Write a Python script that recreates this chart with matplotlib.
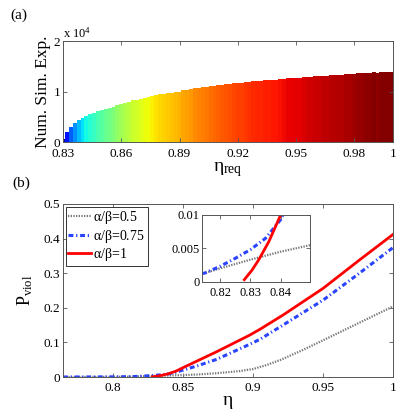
import matplotlib

matplotlib.use("Agg")

import matplotlib.pyplot as plt
import numpy as np

# --- (a) number of simulation experiments per required efficiency ---
ETA_REQ_START = 0.830
ETA_REQ_STEP = 0.002
NUM_SIM_X1E4 = [
    0.05, 0.20, 0.30, 0.37, 0.43, 0.48, 0.52, 0.55, 0.58, 0.61,
    0.63, 0.66, 0.68, 0.70, 0.73, 0.76, 0.78, 0.80, 0.83, 0.84,
    0.86, 0.88, 0.89, 0.91, 0.93, 0.95, 0.96, 0.97, 0.98, 0.99,
    1.00, 1.02, 1.03, 1.04, 1.06, 1.07, 1.08, 1.09, 1.10, 1.11,
    1.12, 1.13, 1.14, 1.15, 1.16, 1.17, 1.17, 1.18, 1.19, 1.20,
    1.21, 1.21, 1.22, 1.22, 1.23, 1.23, 1.24, 1.25, 1.26, 1.26,
    1.27, 1.27, 1.28, 1.29, 1.29, 1.30, 1.30, 1.31, 1.31, 1.32,
    1.32, 1.33, 1.33, 1.34, 1.34, 1.35, 1.36, 1.36, 1.37, 1.37,
    1.38, 1.37, 1.38, 1.38, 1.38, 1.39,
]
TOP_XTICKS = [0.83, 0.86, 0.89, 0.92, 0.95, 0.98, 1.0]
TOP_XTICKLABELS = ["0.83", "0.86", "0.89", "0.92", "0.95", "0.98", "1"]

# --- (b) violation probability curves ---
ETA_05 = [0.7643, 0.78, 0.80, 0.81, 0.815, 0.82, 0.83, 0.84, 0.85, 0.86,
          0.874, 0.89, 0.90, 0.91, 0.92, 0.935, 0.95, 0.975, 1.0]
P_05 = [0.0, 0.0001, 0.0004, 0.0009, 0.0013, 0.0020, 0.0033, 0.0045, 0.0055, 0.0072,
        0.011, 0.017, 0.023, 0.035, 0.050, 0.077, 0.106, 0.155, 0.204]

ETA_075 = [0.7643, 0.78, 0.80, 0.81, 0.815, 0.82, 0.825, 0.83, 0.835, 0.84,
           0.845, 0.85, 0.86, 0.874, 0.8976, 0.905, 0.9214, 0.95, 0.976, 1.0]
P_075 = [0.0, 0.0001, 0.0004, 0.0009, 0.0013, 0.0023, 0.0035, 0.0048, 0.0065, 0.0093,
         0.014, 0.020, 0.032, 0.051, 0.0945, 0.109, 0.150, 0.222, 0.300, 0.374]

ETA_1 = [0.828, 0.8305, 0.8328, 0.8361, 0.8383, 0.840, 0.845, 0.85, 0.862, 0.874,
         0.8976, 0.905, 0.9214, 0.95, 0.976, 1.0]
P_1 = [0.0003, 0.0017, 0.0033, 0.0060, 0.00825, 0.010, 0.017, 0.027, 0.050, 0.073,
       0.121, 0.138, 0.179, 0.256, 0.338, 0.412]

LEGEND_LABELS = [r"$\alpha/\beta$=0.5", r"$\alpha/\beta$=0.75", r"$\alpha/\beta$=1"]

SERIF = ["Liberation Serif", "DejaVu Serif"]
plt.rcParams["font.family"] = SERIF
plt.rcParams["mathtext.fontset"] = "custom"
plt.rcParams["mathtext.rm"] = "Liberation Serif"
plt.rcParams["mathtext.it"] = "Liberation Serif"
plt.rcParams["mathtext.sf"] = "Liberation Serif"

AXCOL = "#555555"
GRAY_STYLE = dict(linestyle=(0, (0.6, 0.6)), color="#777777", lw=1.6)
BLUE_STYLE = dict(linestyle=(0, (1.6, 0.9, 0.4, 0.9)), color="#2b44ff", lw=2.2)
RED_STYLE = dict(linestyle="-", color="#ff0000", lw=2.0)


def style_axes(ax, size=9, xpad=3.5):
    for sp in ax.spines.values():
        sp.set_color(AXCOL)
        sp.set_linewidth(0.7)
    ax.tick_params(direction="in", length=3, width=0.6, color=AXCOL,
                   top=True, right=True, labelsize=size, pad=2)
    ax.tick_params(axis="x", pad=xpad)


fig = plt.figure(figsize=(3.99, 4.11), dpi=100)

# (a)
ax1 = fig.add_axes([0.158, 0.6545, 0.827, 0.2457])
heights = np.array(NUM_SIM_X1E4) * 1e4
eta_req = ETA_REQ_START + ETA_REQ_STEP * np.arange(len(heights))
colors = plt.cm.jet(heights / heights.max())
ax1.bar(eta_req, heights, width=ETA_REQ_STEP, color=colors, linewidth=0)
ax1.set_xlim(0.83, 1.0)
ax1.set_ylim(0, 2e4)
ax1.set_xticks(TOP_XTICKS)
ax1.set_xticklabels(TOP_XTICKLABELS)
ax1.set_yticks([0, 1e4, 2e4])
ax1.set_yticklabels(["0", "1", "2"])
style_axes(ax1, 9.5, xpad=4.5)
ax1.set_ylabel("Num. Sim. Exp.", fontsize=12.5, labelpad=2)
ax1.set_xlabel(r"$\eta_{\mathrm{req}}$", fontsize=14, labelpad=0)
ax1.text(0.0, 1.0, r"x 10$^{4}$", transform=ax1.transAxes, fontsize=9,
         ha="left", va="bottom")
fig.text(0.025, 0.955, "(a)", fontsize=11)

# (b)
ax2 = fig.add_axes([0.158, 0.0827, 0.827, 0.421])
l1, = ax2.plot(ETA_05, P_05, **GRAY_STYLE)
l2, = ax2.plot(ETA_075, P_075, **BLUE_STYLE)
l3, = ax2.plot(ETA_1, P_1, **RED_STYLE)
ax2.set_xlim(0.7643, 1.0)
ax2.set_ylim(0, 0.5)
ax2.set_xticks([0.8, 0.85, 0.9, 0.95, 1.0])
ax2.set_xticklabels(["0.8", "0.85", "0.9", "0.95", "1"])
ax2.set_yticks([0, 0.1, 0.2, 0.3, 0.4, 0.5])
ax2.set_yticklabels(["0", "0.1", "0.2", "0.3", "0.4", "0.5"])
style_axes(ax2, 9.5)
ax2.set_ylabel(r"P$_{\mathrm{viol}}$", fontsize=13, labelpad=6)
ax2.set_xlabel(r"$\eta$", fontsize=14, labelpad=0)
leg = ax2.legend([l1, l2, l3], LEGEND_LABELS, loc="upper left",
                 bbox_to_anchor=(0.008, 0.985), fontsize=10, handlelength=1.6,
                 handletextpad=0.2, borderpad=0.2, labelspacing=0.1,
                 fancybox=False, framealpha=1, borderaxespad=0)
leg.get_frame().set_edgecolor("#333333")
leg.get_frame().set_linewidth(0.7)
fig.text(0.03, 0.545, "(b)", fontsize=11)

# inset
ax3 = fig.add_axes([0.5075, 0.3146, 0.2694, 0.1623])
ax3.plot(ETA_05, P_05, **GRAY_STYLE)
ax3.plot(ETA_075, P_075, **BLUE_STYLE)
ax3.plot(ETA_1, P_1, **RED_STYLE)
ax3.set_xlim(0.8142, 0.8497)
ax3.set_ylim(0, 0.01)
ax3.set_xticks([0.82, 0.83, 0.84])
ax3.set_xticklabels(["0.82", "0.83", "0.84"])
ax3.set_yticks([0, 0.005, 0.01])
ax3.set_yticklabels(["0", "0.005", "0.01"])
style_axes(ax3, 9)

fig.savefig("out.png", dpi=100)
